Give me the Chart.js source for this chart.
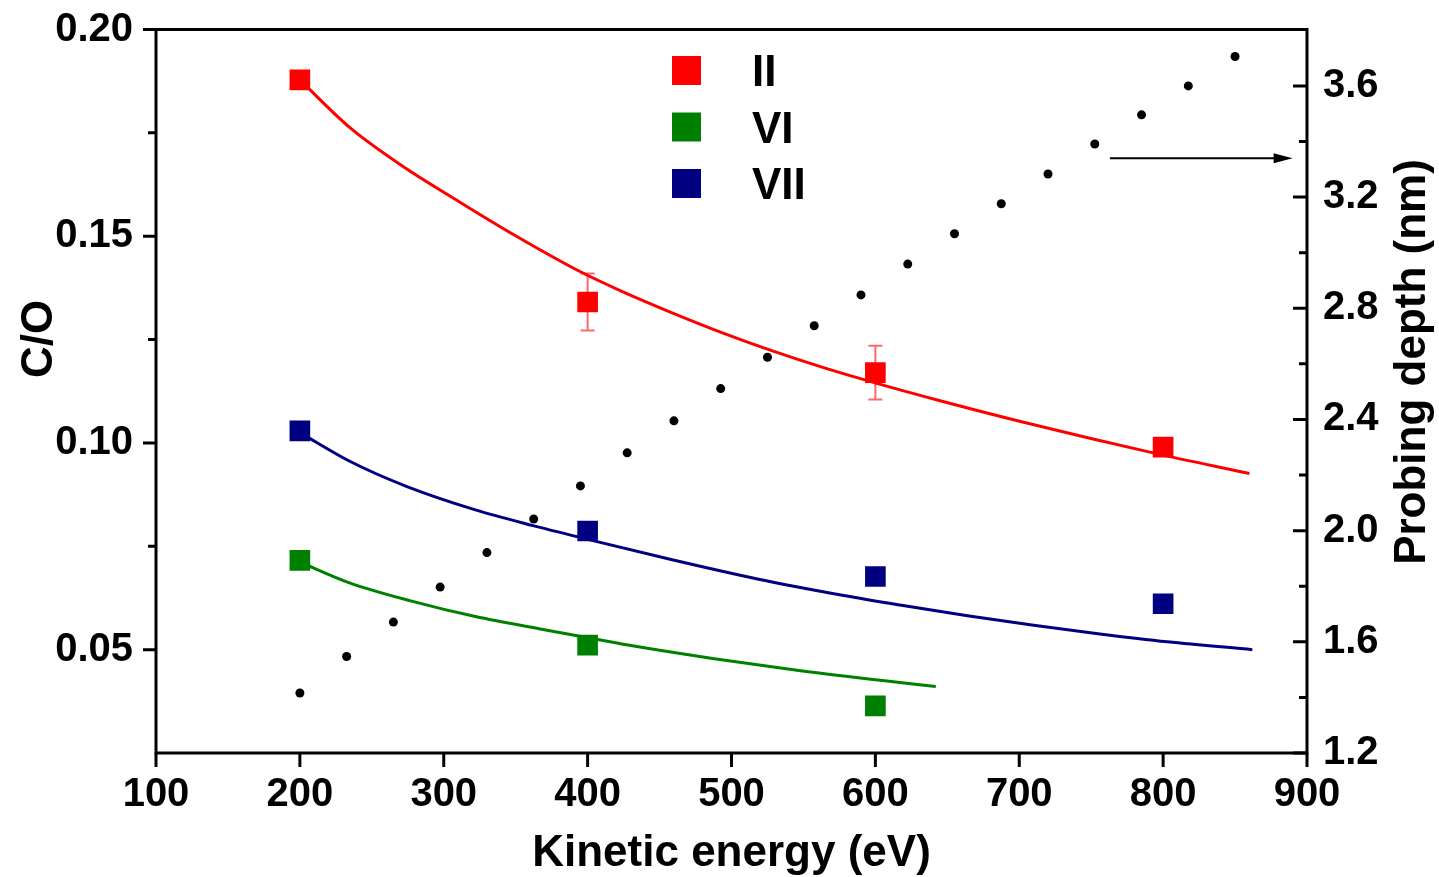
<!DOCTYPE html>
<html>
<head>
<meta charset="utf-8">
<title>C/O vs kinetic energy</title>
<script src="https://cdn.jsdelivr.net/npm/chart.js@4.4.0/dist/chart.umd.min.js"></script>
<style>
  html, body { margin: 0; padding: 0; background: #fff; }
  #wrap { width: 1439px; height: 877px; position: relative; }
</style>
</head>
<body>
<div id="wrap"><canvas id="chart"></canvas></div>
<script>
// Measured C/O ratios per sample
const energyII = [200, 400, 600, 800];
const ratioII = [0.1878, 0.1341, 0.1170, 0.0990];
const errII = [0, 0.0069, 0.0065, 0];

const energyVI = [200, 400, 600];
const ratioVI = [0.0716, 0.0511, 0.0364];

const energyVII = [200, 400, 600, 800];
const ratioVII = [0.1029, 0.0787, 0.0677, 0.0611];

// Fitted curves
const fitEnergyII = [200, 235, 272, 310, 349, 395, 423, 460, 497, 529, 564, 601, 645, 703, 793, 860];
const fitII = [0.1878, 0.1762, 0.1668, 0.1585, 0.1503, 0.1414, 0.1368, 0.1313, 0.1262, 0.1222, 0.1182, 0.1144, 0.1102, 0.1050, 0.0976, 0.0926];

const fitEnergyVI = [200, 235, 277, 322, 367, 400, 428, 488, 548, 608, 642];
const fitVI = [0.0712, 0.0661, 0.0618, 0.0580, 0.0550, 0.0529, 0.0511, 0.0478, 0.0449, 0.0424, 0.0411];

const fitEnergyVII = [200, 235, 274, 322, 362, 400, 458, 518, 578, 617, 664, 710, 756, 803, 862];
const fitVII = [0.1025, 0.0955, 0.0895, 0.0838, 0.0800, 0.0767, 0.0718, 0.0671, 0.0631, 0.0608, 0.0582, 0.0559, 0.0538, 0.0519, 0.0500];

// Probing depth (right axis)
const depthEnergy = [200, 232.5, 265, 297.5, 330, 362.5, 395, 427.5, 460, 492.5, 525, 557.5, 590, 622.5, 655, 687.5, 720, 752.5, 785, 817.5, 850];
const depth = [1.416, 1.547, 1.671, 1.797, 1.921, 2.042, 2.161, 2.280, 2.395, 2.511, 2.624, 2.737, 2.848, 2.959, 3.068, 3.176, 3.283, 3.391, 3.496, 3.600, 3.706];

// Axis ticks
const energyTicks = [100, 200, 300, 400, 500, 600, 700, 800, 900];
const ratioTicks = [0.05, 0.10, 0.15, 0.20];
const ratioMinor = [0.075, 0.125, 0.175];
const depthTicks = [1.2, 1.6, 2.0, 2.4, 2.8, 3.2, 3.6];
const depthMinor = [1.4, 1.8, 2.2, 2.6, 3.0, 3.4];

const seriesNames = ['II', 'VI', 'VII'];
const seriesColors = ['#ff0000', '#008000', '#000080'];

// arrow pointing at the right-hand axis (x in eV, y in nm)
const arrowFrom = [763, 3.34];
const arrowTo = [890, 3.34];

const FONT = '"Liberation Sans", Arial, sans-serif';
Chart.defaults.font.family = FONT;
Chart.defaults.font.weight = 'bold';
Chart.defaults.color = '#000';

const pts = (xs, ys) => xs.map((v, i) => ({x: v, y: ys[i]}));

function markerSet(xs, ys, color) {
    return {
        data: pts(xs, ys),
        pointStyle: 'rect',
        pointRadius: 14.6,
        backgroundColor: color,
        borderColor: color,
        borderWidth: 0,
        showLine: false
    };
}

function fitSet(xs, ys, color) {
    return {
        data: pts(xs, ys),
        showLine: true,
        pointRadius: 0,
        borderColor: color,
        borderWidth: 3,
        cubicInterpolationMode: 'monotone',
        fill: false
    };
}

// tick marks are drawn by the plugin; the grid ticks only reserve label space
function hiddenGrid(len) {
    return { drawOnChartArea: false, drawTicks: true, tickLength: len, tickColor: 'rgba(0,0,0,0)' };
}

const plotDecor = {
    id: 'plotDecor',
    beforeDatasetsDraw(chart) {
        const {ctx, scales: {x, y}} = chart;
        ctx.save();
        ctx.strokeStyle = 'rgba(255,40,40,0.7)';
        ctx.lineWidth = 2;
        energyII.forEach((e, i) => {
            if (!errII[i]) return;
            const px = x.getPixelForValue(e);
            const top = y.getPixelForValue(ratioII[i] + errII[i]);
            const bot = y.getPixelForValue(ratioII[i] - errII[i]);
            ctx.beginPath();
            ctx.moveTo(px, top); ctx.lineTo(px, bot);
            ctx.moveTo(px - 7, top); ctx.lineTo(px + 7, top);
            ctx.moveTo(px - 7, bot); ctx.lineTo(px + 7, bot);
            ctx.stroke();
        });
        ctx.restore();
    },
    afterDraw(chart) {
        const {ctx, chartArea: a, scales: {x, y, y2}} = chart;
        ctx.save();
        ctx.strokeStyle = '#000';
        ctx.fillStyle = '#000';
        ctx.lineWidth = 3;

        // frame
        ctx.strokeRect(a.left, a.top, a.right - a.left, a.bottom - a.top);

        // tick marks: left outward, right inward, bottom outward
        ctx.beginPath();
        ratioTicks.forEach(v => { const p = y.getPixelForValue(v); ctx.moveTo(a.left - 13, p); ctx.lineTo(a.left, p); });
        ratioMinor.forEach(v => { const p = y.getPixelForValue(v); ctx.moveTo(a.left - 8, p); ctx.lineTo(a.left, p); });
        depthTicks.forEach(v => { const p = y2.getPixelForValue(v); ctx.moveTo(a.right - 14, p); ctx.lineTo(a.right, p); });
        depthMinor.forEach(v => { const p = y2.getPixelForValue(v); ctx.moveTo(a.right - 8, p); ctx.lineTo(a.right, p); });
        energyTicks.forEach(v => { const p = x.getPixelForValue(v); ctx.moveTo(p, a.bottom); ctx.lineTo(p, a.bottom + 14); });
        ctx.stroke();

        // arrow
        const ax0 = x.getPixelForValue(arrowFrom[0]), ay = y2.getPixelForValue(arrowFrom[1]);
        const ax1 = x.getPixelForValue(arrowTo[0]);
        ctx.lineWidth = 2;
        ctx.beginPath();
        ctx.moveTo(ax0, ay); ctx.lineTo(ax1 - 15, ay);
        ctx.stroke();
        ctx.beginPath();
        ctx.moveTo(ax1, ay); ctx.lineTo(ax1 - 19, ay - 5); ctx.lineTo(ax1 - 19, ay + 5);
        ctx.closePath();
        ctx.fill();

        // legend
        ctx.font = 'bold 44px ' + FONT;
        ctx.textAlign = 'left';
        ctx.textBaseline = 'alphabetic';
        const lx = a.left + 516, ly = a.top + 41;
        seriesNames.forEach((name, i) => {
            const cy = ly + i * 56.5;
            ctx.fillStyle = seriesColors[i];
            ctx.fillRect(lx, cy - 14.5, 29, 29);
            ctx.fillStyle = '#000';
            ctx.fillText(name, lx + 80, cy + 15.5);
        });

        // axis titles
        ctx.textAlign = 'center';
        ctx.fillText('Kinetic energy (eV)', (a.left + a.right) / 2, 866);

        ctx.save();
        ctx.translate(52, 339);
        ctx.rotate(-Math.PI / 2);
        ctx.fillText('C/O', 0, 0);
        ctx.restore();

        ctx.save();
        ctx.translate(1425, 362);
        ctx.rotate(-Math.PI / 2);
        ctx.fillText('Probing depth (nm)', 0, 0);
        ctx.restore();

        ctx.restore();
    }
};

const ctx = document.getElementById('chart').getContext('2d');
const chart = new Chart(ctx, {
    type: 'scatter',
    data: {
        datasets: [
            {
                data: pts(depthEnergy, depth),
                yAxisID: 'y2',
                pointStyle: 'circle',
                pointRadius: 4.5,
                backgroundColor: '#000',
                borderColor: '#000',
                borderWidth: 0
            },
            markerSet(energyII, ratioII, seriesColors[0]),
            markerSet(energyVI, ratioVI, seriesColors[1]),
            markerSet(energyVII, ratioVII, seriesColors[2]),
            fitSet(fitEnergyII, fitII, seriesColors[0]),
            fitSet(fitEnergyVI, fitVI, seriesColors[1]),
            fitSet(fitEnergyVII, fitVII, seriesColors[2])
        ]
    },
    options: {
        responsive: true,
        maintainAspectRatio: false,
        animation: false,
        layout: { padding: { top: 29.5, left: 0, right: 0, bottom: 0 } },
        plugins: {
            legend: { display: false },
            tooltip: { enabled: false }
        },
        scales: {
            x: {
                type: 'linear',
                min: 100,
                max: 900,
                grid: hiddenGrid(18),
                border: { display: false },
                afterBuildTicks: s => { s.ticks = energyTicks.map(v => ({value: v})); },
                afterFit: s => { s.height = 124; },
                ticks: { font: { size: 40, weight: 'bold' }, padding: 0, autoSkip: false, maxRotation: 0,
                         callback: v => String(v) }
            },
            y: {
                type: 'linear',
                position: 'left',
                min: 0.025,
                max: 0.20,
                grid: hiddenGrid(23),
                border: { display: false },
                afterBuildTicks: s => { s.ticks = ratioTicks.map(v => ({value: v})); },
                afterFit: s => { s.width = 156; },
                ticks: { font: { size: 40, weight: 'bold' }, padding: 0, autoSkip: false,
                         callback: v => v.toFixed(2) }
            },
            y2: {
                type: 'linear',
                position: 'right',
                min: 1.2,
                max: 3.803,
                grid: hiddenGrid(16),
                border: { display: false },
                afterBuildTicks: s => { s.ticks = depthTicks.map(v => ({value: v})); },
                afterFit: s => { s.width = 132; },
                ticks: { font: { size: 40, weight: 'bold' }, padding: 0, autoSkip: false,
                         callback: v => v.toFixed(1) }
            }
        }
    },
    plugins: [plotDecor]
});
</script>
</body>
</html>
